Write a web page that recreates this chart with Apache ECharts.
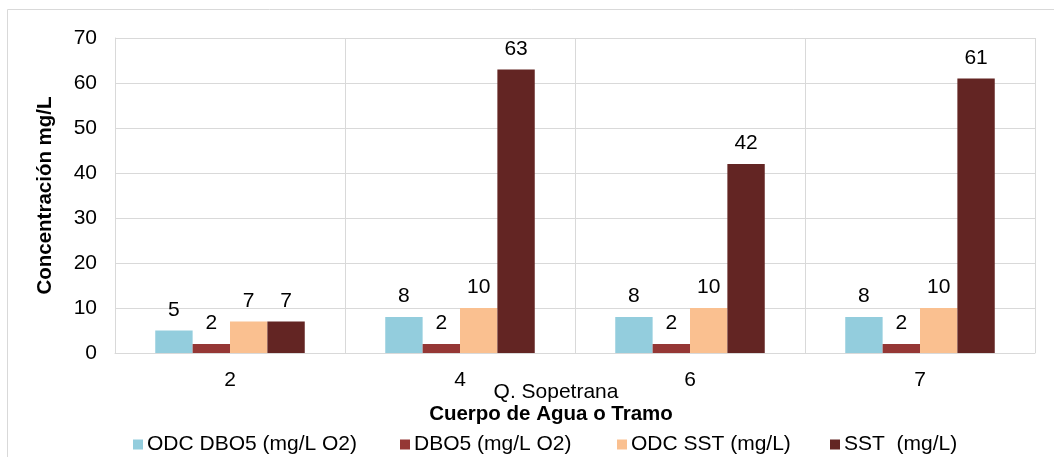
<!DOCTYPE html>
<html>
<head>
<meta charset="utf-8">
<script src="https://cdn.jsdelivr.net/npm/echarts@6/dist/echarts.min.js"></script>
<style>
html,body{margin:0;padding:0;background:#fff;}
#c{width:1054px;height:457px;}
</style>
</head>
<body>
<div id="c"></div>
<script>
const categories = ['2', '4', '6', '7'];
const groupLabel = 'Q. Sopetrana';
const xTitle = 'Cuerpo de Agua o Tramo';
const yTitle = 'Concentración mg/L';
const seriesNames = ['ODC DBO5 (mg/L O2)', 'DBO5 (mg/L O2)', 'ODC SST (mg/L)', 'SST  (mg/L)'];
const odcDbo5 = [5, 8, 8, 8];
const dbo5 = [2, 2, 2, 2];
const odcSst = [7, 10, 10, 10];
const sst = [7, 63, 42, 61];
const colors = ['#93CDDD', '#953735', '#FAC090', '#632523'];

const FONT = 'Liberation Sans, Arial, sans-serif';
const FS = 21;
const values = [odcDbo5, dbo5, odcSst, sst];

const chart = echarts.init(document.getElementById('c'), null, {renderer: 'canvas'});
const legendLefts = [128, 395, 612, 825];

chart.setOption({
  animation: false,
  textStyle: {fontFamily: FONT},
  grid: {left: 115, right: 19, top: 38, bottom: 104, containLabel: false},
  legend: seriesNames.map((n, i) => ({
    data: [n], left: legendLefts[i], top: 429, itemWidth: 10, itemHeight: 10, itemGap: 0,
    icon: 'rect', textStyle: {fontSize: FS, color: '#000', fontFamily: FONT, padding: [0, 0, 0, -1]},
    selectedMode: false
  })),
  xAxis: {
    type: 'category', data: categories,
    axisLine: {lineStyle: {color: '#D9D9D9', width: 1}},
    axisTick: {show: false},
    axisLabel: {fontSize: FS, color: '#000', margin: 17, fontFamily: FONT},
    splitLine: {show: true, lineStyle: {color: '#D9D9D9', width: 1}}
  },
  yAxis: {
    type: 'value', min: 0, max: 70, interval: 10,
    name: yTitle, nameLocation: 'middle', nameGap: 59, nameRotate: 90,
    nameTextStyle: {fontSize: FS - 0.5, fontWeight: 'bold', color: '#000', fontFamily: FONT},
    axisLine: {show: true, lineStyle: {color: '#D9D9D9', width: 1}},
    axisTick: {show: false},
    axisLabel: {fontSize: FS, color: '#000', margin: 18, fontFamily: FONT},
    splitLine: {show: true, lineStyle: {color: '#D9D9D9', width: 1}}
  },
  series: seriesNames.map((n, i) => ({
    name: n, type: 'bar', data: values[i],
    barGap: '0%', barCategoryGap: '35%',
    itemStyle: {color: colors[i]},
    label: {show: true, position: 'top', distance: 10, fontSize: FS, color: '#000', fontFamily: FONT}
  })),
  graphic: [
    {type: 'rect', shape: {x: 7.5, y: 9.5, width: 1100, height: 500}, style: {fill: 'none', stroke: '#D9D9D9', lineWidth: 1}, silent: true, z: -1},
    {type: 'text', style: {text: groupLabel, x: 556, y: 392, textAlign: 'center', textVerticalAlign: 'middle', font: '21px ' + FONT, fill: '#000'}},
    {type: 'text', style: {text: xTitle, x: 551, y: 414, textAlign: 'center', textVerticalAlign: 'middle', font: 'bold 20.5px ' + FONT, fill: '#000'}}
  ]
});
</script>
</body>
</html>
